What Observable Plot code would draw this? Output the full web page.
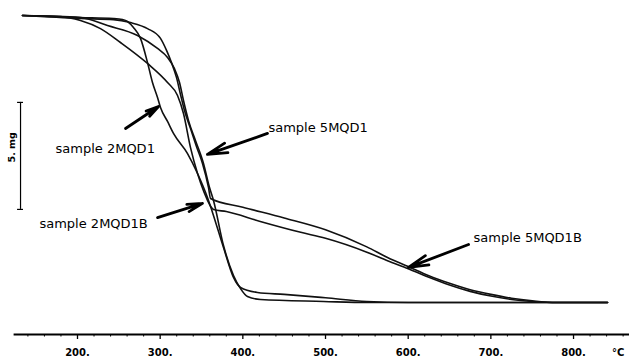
<!DOCTYPE html>
<html><head><meta charset="utf-8">
<script src="https://cdn.jsdelivr.net/npm/d3@7"></script>
<script src="https://cdn.jsdelivr.net/npm/@observablehq/plot@0.6"></script>
<style>html,body{margin:0;padding:0;background:#fff;} #chart svg{display:block;}</style>
</head><body><div id="chart"></div>
<script>
// Thermogravimetric curves: temperature (°C) vs sample mass (mg)
const temp2MQD1 = [133.5,203.6,243.5,254.4,260.5,267.7,276.2,284.7,290.7,296.8,300.4,308.9,316.1,333.1,345.2,357.2,363.3,376.6,388.7,397.2,417.7,450,500,550,600,841.1];
const mass2MQD1 = [14.41,14.32,14.27,14.22,14.13,13.85,13.34,12.21,11.28,10.58,10.11,9.46,8.90,7.96,7.03,5.91,5.21,3.57,2.17,1.70,1.47,1.38,1.22,1.05,1.00,1.00];

const temp5MQD1 = [133.5,203.6,236.3,272.6,296.8,308.9,317.3,323.4,328.2,334.3,342.7,352.4,359.7,364.5,376.6,388.7,397.2,405.6,421.4,497.6,550.8,841.1];
const mass5MQD1 = [14.41,14.32,13.94,13.48,12.87,12.45,11.93,11.28,10.44,9.50,8.57,7.50,6.37,5.77,3.66,2.26,1.65,1.28,1.14,1.05,1.00,1.00];

const temp2MQD1B = [133.5,179.4,203.6,227.8,252.0,284.7,308.9,321.0,328.2,336.7,345.2,352.4,364.5,380,420,470,500,550,575,600,625,650,675,700,725,750,780,841.1];
const mass2MQD1B = [14.41,14.36,14.18,13.80,13.15,12.17,11.28,10.67,9.83,8.24,7.03,6.23,5.35,5.25,4.80,4.28,4.00,3.35,2.95,2.58,2.18,1.82,1.52,1.30,1.14,1.05,1.00,1.00];

const temp5MQD1B = [133.5,203.6,243.5,264.1,284.7,300.4,307.7,313.7,319.8,324.6,329.4,336.7,343.9,351.2,358.5,360.9,400,450,500,550,575,600,625,650,675,700,725,750,780,841.1];
const mass5MQD1B = [14.41,14.27,14.22,14.08,13.80,13.34,12.78,12.21,11.51,10.72,9.97,9.13,8.29,7.50,6.37,5.86,5.45,4.95,4.40,3.60,3.10,2.68,2.25,1.90,1.60,1.38,1.20,1.08,1.00,1.00];

const majorTicks = [200,300,400,500,600,700,800];
const minorTicks = [140,160,180,220,240,260,280,320,340,360,380,420,440,460,480,520,540,560,580,620,640,660,680,720,740,760,780,820,840,860];
const unitLabel = "°C";
const unitTemp = 854;
const unitMass = -1.34;

// annotations
const labelText = ["sample 2MQD1","sample 5MQD1","sample 2MQD1B","sample 5MQD1B"];
const labelTemp = [173.4, 431.0, 154.0, 679.0];
const labelMass = [8.20, 9.18, 4.69, 4.04];
const arrowFromTemp = [258.1, 429.8, 296.8, 673.0];
const arrowFromMass = [9.13, 8.90, 4.97, 3.71];
const arrowToTemp = [298.0, 357.2, 351.2, 600.4];
const arrowToMass = [10.16, 7.92, 5.63, 2.64];

// 5 mg scale bar
const scaleText = "5. mg";
const scaleTemp = 131.1;
const scaleMass = [5.35, 10.35];
const scaleLabelTemp = 120.2;

const series = [
  {name: "2MQD1", temp: temp2MQD1, mass: mass2MQD1},
  {name: "5MQD1", temp: temp5MQD1, mass: mass5MQD1},
  {name: "2MQD1B", temp: temp2MQD1B, mass: mass2MQD1B},
  {name: "5MQD1B", temp: temp5MQD1B, mass: mass5MQD1B}
];
const rows = series.flatMap(s => s.temp.map((t, i) => ({sample: s.name, temp: t, mass: s.mass[i]})));
const labels = labelText.map((t, i) => ({text: t, temp: labelTemp[i], mass: labelMass[i]}));
const arrows = arrowFromTemp.map((t, i) => ({x1: t, y1: arrowFromMass[i], x2: arrowToTemp[i], y2: arrowToMass[i]}));
const caps = scaleMass.map(m => ({m, x1: scaleTemp - 3.6, x2: scaleTemp + 3.6}));

const chart = Plot.plot({
  width: 629, height: 358,
  marginTop: 0, marginRight: 0, marginBottom: 24, marginLeft: 14,
  x: {domain: [123.8, 867.7]},
  y: {domain: [-0.495, 15.112], axis: null},
  style: {background: "#fff", color: "#000", fontFamily: "DejaVu Sans", overflow: "visible"},
  marks: [
    Plot.frame({anchor: "bottom", strokeWidth: 1.8, stroke: "#000"}),
    Plot.axisX({ticks: minorTicks, tickSize: 2.5, tickFormat: () => "", label: null, stroke: "#000"}),
    Plot.axisX({ticks: majorTicks, tickSize: 5, tickPadding: 9, tickFormat: d => d + ".", label: null,
      fontSize: 10, fontWeight: "bold", stroke: "#000", strokeWidth: 1.3}),
    Plot.text([unitLabel], {x: () => unitTemp, y: () => unitMass, text: d => d, fontSize: 10, fontWeight: "bold", fill: "#000"}),
    Plot.line(rows, {x: "temp", y: "mass", z: "sample", curve: "monotone-x", stroke: "#111", strokeWidth: 1.6}),
    Plot.ruleX([scaleTemp], {y1: () => scaleMass[0], y2: () => scaleMass[1], stroke: "#000", strokeWidth: 1.2}),
    Plot.ruleY(caps, {y: "m", x1: "x1", x2: "x2", stroke: "#000", strokeWidth: 1.2}),
    Plot.text([scaleText], {x: () => scaleLabelTemp, y: () => (scaleMass[0] + scaleMass[1]) / 2 + 0.4, text: d => d, rotate: -90, fontSize: 9.5, fontWeight: "bold", fill: "#000"}),
    Plot.text(labels, {x: "temp", y: "mass", text: "text", textAnchor: "start", fontSize: 13, fill: "#000"}),
    Plot.arrow(arrows, {x1: "x1", y1: "y1", x2: "x2", y2: "y2", stroke: "#000", strokeWidth: 2.8, headLength: 11, headAngle: 28})
  ]
});
document.getElementById("chart").appendChild(chart);
</script>
</body></html>
